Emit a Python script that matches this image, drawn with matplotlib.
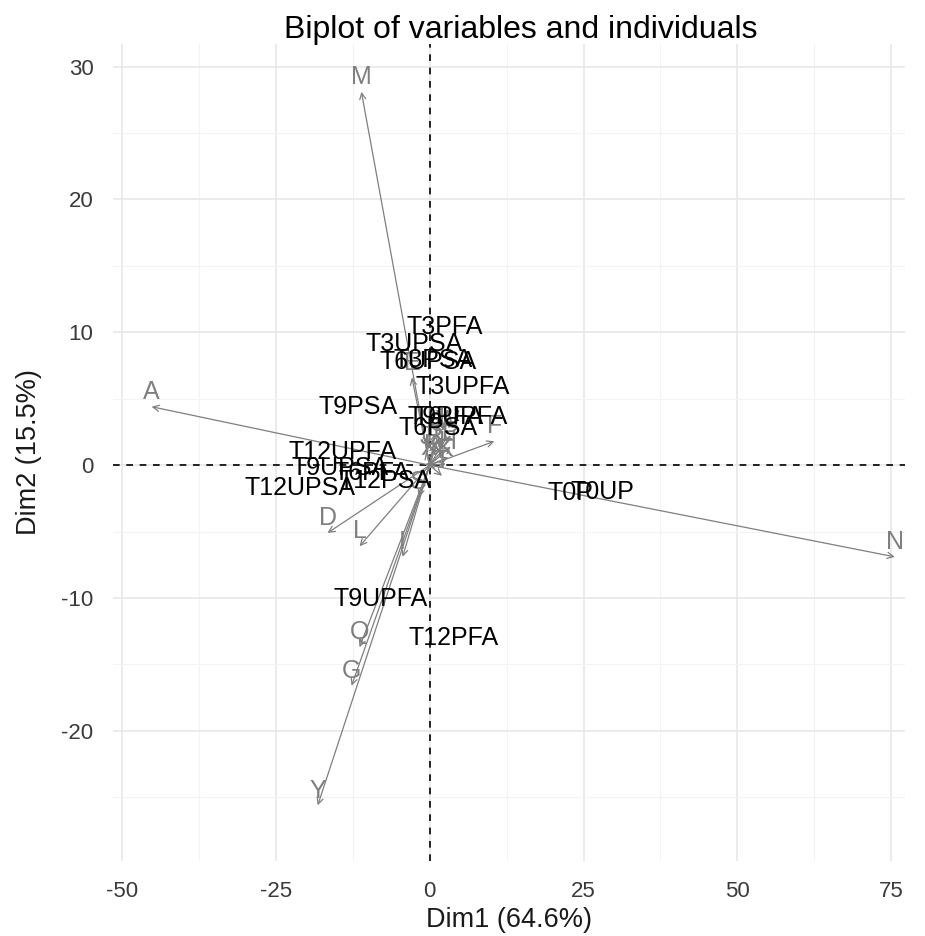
import matplotlib.pyplot as plt
from matplotlib.ticker import MultipleLocator

plt.rcParams['font.family'] = ['Liberation Sans', 'DejaVu Sans']
plt.rcParams['axes.unicode_minus'] = False

# individuals (label positions on Dim1 / Dim2)
ind_names = ['T3PFA', 'T3UPSA', 'T6UPSA', 'T3PSA', 'T3UPFA', 'T9PSA',
             'T9PFA', 'T6UPFA', 'T6PSA', 'T12UPFA', 'T9UPSA', 'T6PFA',
             'T12PSA', 'T12UPSA', 'T9UPFA', 'T12PFA', 'T0P', 'T0UP']
ind_x = [2.4, -2.6, -0.3, 0.5, 5.3, -11.7,
         2.6, 5.0, 1.3, -14.1, -14.5, -9.4,
         -7.3, -21.1, -8.0, 3.9, 22.9, 28.0]
ind_y = [10.4, 9.1, 7.8, 7.9, 5.9, 4.4,
         3.6, 3.6, 2.8, 1.0, -0.2, -0.6,
         -1.2, -1.7, -10.1, -13.0, -2.1, -2.0]

# variables (arrow tips)
var_names = ['M', 'A', 'N', 'D', 'L', 'I', 'Q', 'G', 'Y', 'F', 'E',
             'B', 'C', 'H', 'J', 'K', 'O', 'P', 'R', 'S', 'T', 'U', 'W', 'X']
var_x = [-11.1, -45.2, 75.6, -16.6, -11.4, -4.4, -11.4, -12.7, -18.2, 10.5, -2.9,
         0.8, 2.2, 3.0, -0.6, 2.6, 1.4, 3.4, 0.6, -1.8, 2.0, 0.9, 2.9, -0.2]
var_y = [28.1, 4.4, -6.9, -5.1, -6.1, -6.9, -13.7, -16.6, -25.6, 1.8, 6.6,
         1.6, 1.2, 0.6, 1.0, 0.1, 2.0, 1.4, 0.4, -2.4, -0.8, 2.4, 2.2, 0.2]

grey = '#7f7f7f'

fig = plt.figure(figsize=(9.25, 9.36), dpi=100)
ax = fig.add_axes([0.122, 0.080, 0.856, 0.873])

ax.set_xlim(-51.5, 77.2)
ax.set_ylim(-29.8, 31.7)
ax.xaxis.set_major_locator(MultipleLocator(25))
ax.xaxis.set_minor_locator(MultipleLocator(12.5))
ax.yaxis.set_major_locator(MultipleLocator(10))
ax.yaxis.set_minor_locator(MultipleLocator(5))
ax.grid(which='major', color='#e6e6e6', lw=1.1)
ax.grid(which='minor', color='#f3f3f3', lw=0.8)
ax.set_axisbelow(True)
for s in ax.spines.values():
    s.set_visible(False)
ax.tick_params(which='both', length=0, labelsize=16, labelcolor='#3a3a3a', pad=14)

ax.axhline(0, color='black', ls=(0, (4, 4)), lw=1.2)
ax.axvline(0, color='black', ls=(0, (4, 4)), lw=1.2)

# variable arrows + labels
for name, x, y in zip(var_names, var_x, var_y):
    ax.annotate('', xy=(x, y), xytext=(0, 0),
                arrowprops=dict(arrowstyle='->', color=grey, lw=0.9,
                                shrinkA=0, shrinkB=0, mutation_scale=11))
    ax.annotate(name, xy=(x, y), xytext=(0, 2), textcoords='offset points',
                ha='center', va='bottom', color=grey, fontsize=18)

# individual labels
for name, x, y in zip(ind_names, ind_x, ind_y):
    ax.text(x, y, name, ha='center', va='center', color='black', fontsize=18)

ax.set_xlabel('Dim1 (64.6%)', fontsize=19.5, color='#1a1a1a', labelpad=4)
ax.set_ylabel('Dim2 (15.5%)', fontsize=19.5, color='#1a1a1a', labelpad=14)
fig.text(0.563, 0.968, 'Biplot of variables and individuals', ha='center', va='center',
         fontsize=23, color='black')

fig.savefig('out.png', dpi=100)
